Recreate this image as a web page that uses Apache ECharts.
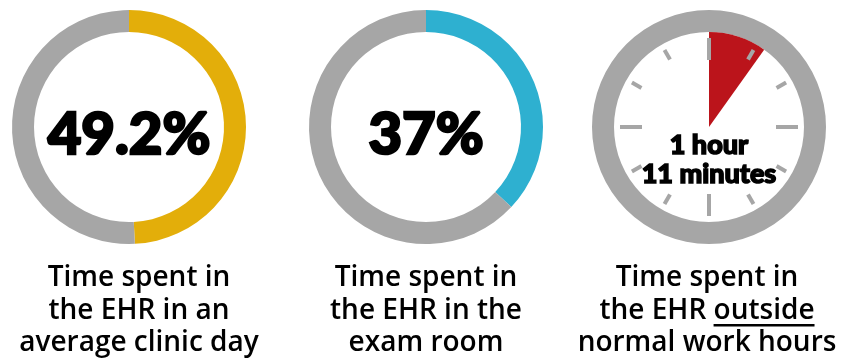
<!DOCTYPE html>
<html>
<head>
<meta charset="utf-8">
<script src="https://cdn.jsdelivr.net/npm/echarts@6/dist/echarts.min.js"></script>
<style>
html,body{margin:0;padding:0;background:#fff;}
#chart{width:858px;height:362px;}
</style>
</head>
<body>
<div id="chart"></div>
<script>
// ---- data ----
const shareLabels = ['Time spent in\nthe EHR in an\naverage clinic day', 'Time spent in\nthe EHR in the\nexam room'];
const shareValues = [49.2, 37];
const shareTexts = ['49.2%', '37%'];
const shareColors = ['#E3AE0A', '#2EB0D0'];
const clockLabelLines = ['Time spent in', 'the EHR ', 'outside', 'normal work hours'];
const outsideMinutes = 71;          // 1 hour 11 minutes
const clockMinutesTotal = 720;      // 12-hour clock face
const clockHours = 12;
const clockText = '1 hour\n11 minutes';

// ---- layout ----
const GRAY = '#A6A6A6';
const RED = '#BB141B';
const centersX = [129, 426, 709];
const labelX = [139, 426, 707];
const cy = 127;
const rOut = 117, rIn = 95;
const bigFont = '900 58px Lato';
const labelFontSize = 28;
const labelFamily = '"Open Sans"';
const labelWeight = 600;
const labelLH = 32.5;
const labelMidY = 311;

const chart = echarts.init(document.getElementById('chart'), null, {renderer: 'canvas'});

const series = [];
shareValues.forEach((v, i) => {
  series.push({
    type: 'pie',
    center: [centersX[i], cy],
    radius: [rIn, rOut],
    startAngle: 90,
    clockwise: true,
    silent: true,
    label: {show: false},
    labelLine: {show: false},
    itemStyle: {borderWidth: 0},
    emphasis: {disabled: true},
    data: [
      {value: v, itemStyle: {color: shareColors[i]}},
      {value: 100 - v, itemStyle: {color: GRAY}}
    ]
  });
});
// clock ring
series.push({
  type: 'pie',
  center: [centersX[2], cy],
  radius: [rIn, rOut],
  silent: true,
  label: {show: false},
  emphasis: {disabled: true},
  data: [{value: 1, itemStyle: {color: GRAY}}]
});
// red wedge
series.push({
  type: 'pie',
  center: [centersX[2], cy],
  radius: [0, rIn],
  startAngle: 90,
  clockwise: true,
  silent: true,
  label: {show: false},
  emphasis: {disabled: true},
  z: 2,
  data: [
    {value: outsideMinutes, itemStyle: {color: RED}},
    {value: clockMinutesTotal - outsideMinutes, itemStyle: {color: 'rgba(0,0,0,0)'}}
  ]
});
// clock ticks
series.push({
  type: 'gauge',
  center: [centersX[2], cy],
  radius: 89,
  startAngle: 90,
  endAngle: -270,
  min: 0,
  max: clockHours,
  splitNumber: 4,
  silent: true,
  z: 5,
  axisLine: {show: false, lineStyle: {width: 0}},
  splitLine: {show: true, length: 22, distance: 0, lineStyle: {color: GRAY, width: 4, cap: 'butt'}},
  axisTick: {show: true, splitNumber: 3, length: 11, distance: 0, lineStyle: {color: GRAY, width: 4, cap: 'butt'}},
  axisLabel: {show: false},
  pointer: {show: false},
  anchor: {show: false},
  title: {show: false},
  detail: {show: false},
  progress: {show: false},
  data: [{value: 0}]
});

const graphics = [];
shareTexts.forEach((t, i) => {
  graphics.push({
    type: 'text', x: centersX[i], y: cy + 8, z: 10,
    style: {text: t, font: bigFont, fill: '#000', stroke: '#000', lineWidth: 2.5, lineJoin: 'round',
      align: 'center', verticalAlign: 'middle'}
  });
  graphics.push({
    type: 'text', x: labelX[i], y: labelMidY, z: 10,
    style: {text: shareLabels[i], fontFamily: labelFamily, fontWeight: labelWeight, fontSize: labelFontSize,
      lineHeight: labelLH, fill: '#000', align: 'center', verticalAlign: 'middle'}
  });
});
graphics.push({
  type: 'text', x: centersX[2], y: cy + 33, z: 10,
  style: {text: clockText, font: '900 27px Lato', lineHeight: 29, fill: '#000', stroke: '#000', lineWidth: 1.5,
    lineJoin: 'round', align: 'center', verticalAlign: 'middle'}
});
const clockLabel = clockLabelLines[0] + '\n' + clockLabelLines[1] + clockLabelLines[2] + '\n' + clockLabelLines[3];
graphics.push({
  type: 'text', x: labelX[2], y: labelMidY, z: 10,
  style: {text: clockLabel, fontFamily: labelFamily, fontWeight: labelWeight, fontSize: labelFontSize,
    lineHeight: labelLH, fill: '#000', align: 'center', verticalAlign: 'middle'}
});
// underline under "outside"
const cv = document.createElement('canvas').getContext('2d');
cv.font = labelWeight + ' ' + labelFontSize + 'px ' + labelFamily;
const wLine = cv.measureText(clockLabelLines[1] + clockLabelLines[2]).width;
const wPre = cv.measureText(clockLabelLines[1]).width;
const wOut = cv.measureText(clockLabelLines[2]).width;
const lineLeft = labelX[2] - wLine / 2;
graphics.push({
  type: 'rect', z: 10,
  shape: {x: lineLeft + wPre, y: labelMidY + 13, width: wOut, height: 2.5},
  style: {fill: '#000'}
});

chart.setOption({
  animation: false,
  backgroundColor: '#fff',
  series: series,
  graphic: graphics
});
</script>
</body>
</html>
